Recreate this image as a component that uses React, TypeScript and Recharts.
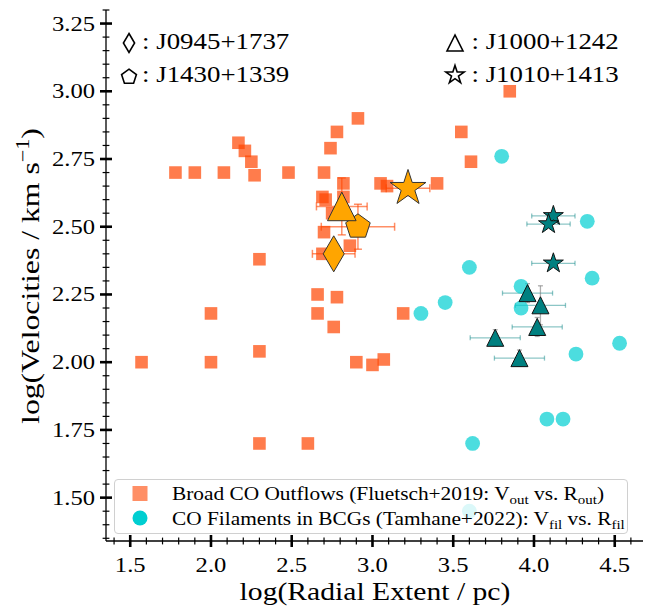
import React from 'react';
import { ScatterChart, Scatter, XAxis, YAxis, ErrorBar } from 'recharts';

// DejaVu Serif is not installed here, so Liberation Serif is widened a little to match it
const SERIF = "'Liberation Serif', 'DejaVu Serif', serif";
const WIDEN = 1.14;

// Fluetsch+2019 broad CO outflows: log R_out (pc), log V_out (km/s)
const outflowLogR = [
  1.57, 1.78, 1.9, 2.0, 2.0, 2.08, 2.17, 2.21, 2.25, 2.27, 2.3, 2.3, 2.3, 2.48,
  2.6, 2.66, 2.66, 2.7, 2.69, 2.71, 2.7, 2.69, 2.74, 2.78, 2.91, 2.82, 2.82,
  2.75, 2.86, 2.78, 2.76, 2.9, 3.0, 3.07, 3.05, 3.09, 3.19, 3.4, 3.55, 3.61, 3.85,
];
const outflowLogV = [
  2.0, 2.7, 2.7, 2.18, 2.0, 2.7, 2.81, 2.78, 2.74, 2.69, 2.38, 2.04, 1.7, 2.7,
  1.7, 2.25, 2.18, 2.7, 2.61, 2.6, 2.48, 2.4, 2.79, 2.85, 2.9, 2.66, 2.61,
  2.55, 2.43, 2.24, 2.13, 2.0, 1.99, 2.01, 2.66, 2.65, 2.18, 2.66, 2.85, 2.74, 3.0,
];

// Tamhane+2022 CO filaments in BCGs: log R_fil, log V_fil
const filamentLogR = [3.8, 4.33, 3.6, 4.36, 3.92, 3.45, 3.92, 3.3, 4.53, 4.26, 4.08, 4.18, 3.62, 3.6];
const filamentLogV = [2.76, 2.52, 2.35, 2.31, 2.28, 2.22, 2.2, 2.18, 2.07, 2.03, 1.79, 1.79, 1.7, 1.45];

// J1000+1242 clumps (teal triangles)
const clumpsJ1000LogR = [3.96, 4.04, 4.02, 3.76, 3.91];
const clumpsJ1000LogV = [2.255, 2.21, 2.13, 2.09, 2.015];
const clumpsJ1000ErrR = [0.155, 0.155, 0.155, 0.155, 0.155];
const clumpsJ1000ErrV = [0.035, 0.072, 0.035, 0.03, 0.03];

// J1010+1413 clumps (teal stars)
const clumpsJ1010LogR = [4.12, 4.09, 4.12];
const clumpsJ1010LogV = [2.54, 2.51, 2.365];
const clumpsJ1010ErrR = [0.134, 0.134, 0.134];

// the four outflow targets (orange markers)
const targetNames = ['J0945+1737', 'J1430+1339', 'J1000+1242', 'J1010+1413'];
const targetLogR = [2.76, 2.91, 2.81, 3.22];
const targetLogV = [2.4, 2.5, 2.575, 2.642];
const targetErrR = [0.132, 0.227, 0.157, 0.135];
const targetErrV = [0.022, 0.083, 0.105, 0.027];

const xMajor = [1.5, 2.0, 2.5, 3.0, 3.5, 4.0, 4.5];
const xLabels = ['1.5', '2.0', '2.5', '3.0', '3.5', '4.0', '4.5'];
const yMajor = [1.5, 1.75, 2.0, 2.25, 2.5, 2.75, 3.0, 3.25];
const yLabels = ['1.50', '1.75', '2.00', '2.25', '2.50', '2.75', '3.00', '3.25'];

const X_DOMAIN = [1.35, 4.675];
const Y_DOMAIN = [1.34, 3.3];

const xTicks: number[] = [];
for (let i = 14; i <= 46; i++) xTicks.push(i / 10);
const yTicks: number[] = [];
for (let i = 27; i <= 66; i++) yTicks.push(i / 20);

const majorIndex = (v: number, list: number[]) => list.findIndex((m) => Math.abs(m - v) < 1e-6);

const outflows = outflowLogR.map((x, i) => ({ x, y: outflowLogV[i] }));
const filaments = filamentLogR.map((x, i) => ({ x, y: filamentLogV[i] }));
const clumpsJ1000 = clumpsJ1000LogR.map((x, i) => ({
  x,
  y: clumpsJ1000LogV[i],
  ex: clumpsJ1000ErrR[i],
  ey: clumpsJ1000ErrV[i],
}));
const clumpsJ1010 = clumpsJ1010LogR.map((x, i) => ({ x, y: clumpsJ1010LogV[i], ex: clumpsJ1010ErrR[i] }));
const targets = targetNames.map((name, i) => ({
  name,
  x: targetLogR[i],
  y: targetLogV[i],
  ex: targetErrR[i],
  ey: targetErrV[i],
}));

const starPoints = (cx: number, cy: number, R: number) => {
  const pts: string[] = [];
  for (let i = 0; i < 10; i++) {
    const r = i % 2 === 0 ? R : R * 0.382;
    const a = -Math.PI / 2 + (i * Math.PI) / 5;
    pts.push(`${cx + r * Math.cos(a)},${cy + r * Math.sin(a)}`);
  }
  return pts.join(' ');
};
const pentagonPoints = (cx: number, cy: number, R: number) => {
  const pts: string[] = [];
  for (let i = 0; i < 5; i++) {
    const a = -Math.PI / 2 + (i * 2 * Math.PI) / 5;
    pts.push(`${cx + R * Math.cos(a)},${cy + R * Math.sin(a)}`);
  }
  return pts.join(' ');
};
const trianglePoints = (cx: number, cy: number, h: number) =>
  `${cx},${cy - h} ${cx - h},${cy + h} ${cx + h},${cy + h}`;
const diamondPoints = (cx: number, cy: number, hx: number, hy: number) =>
  `${cx},${cy - hy} ${cx + hx},${cy} ${cx},${cy + hy} ${cx - hx},${cy}`;

const SquareShape = ({ cx, cy }: any) => (
  <rect x={cx - 6.3} y={cy - 6.3} width={12.6} height={12.6} fill="#FF4500" fillOpacity={0.7} />
);
const DotShape = ({ cx, cy }: any) => <circle cx={cx} cy={cy} r={7.4} fill="#00CED1" fillOpacity={0.7} />;
const EmptyShape = () => <g />;

const ORANGE = '#FFA500';
const TEAL = '#008080';

const targetShapes = [
  ({ cx, cy }: any) => (
    <polygon points={diamondPoints(cx, cy, 10.5, 18)} fill={ORANGE} stroke="#333" strokeWidth={1} />
  ),
  ({ cx, cy }: any) => (
    <polygon points={pentagonPoints(cx, cy, 12.9)} fill={ORANGE} stroke="#333" strokeWidth={1} />
  ),
  ({ cx, cy }: any) => (
    <polygon points={trianglePoints(cx, cy, 14.3)} fill={ORANGE} stroke="#333" strokeWidth={1} />
  ),
  ({ cx, cy }: any) => (
    <polygon points={starPoints(cx, cy, 18.8)} fill={ORANGE} stroke="#333" strokeWidth={1} />
  ),
];
const TealTriangle = ({ cx, cy }: any) => (
  <polygon points={trianglePoints(cx, cy, 8.5)} fill={TEAL} stroke="#111" strokeWidth={1} />
);
const TealStar = ({ cx, cy }: any) => (
  <polygon points={starPoints(cx, cy, 10.5)} fill={TEAL} stroke="#111" strokeWidth={1} />
);

// ticks: "inout" style, majors labelled on bottom/left only
const makeXTick = (labels: boolean) => (props: any) => {
  const { x, y, payload } = props;
  const idx = majorIndex(payload.value, xMajor);
  const len = idx >= 0 ? 6 : 3.4;
  return (
    <g>
      <line x1={x} x2={x} y1={y - len} y2={y + len} stroke="#000" strokeWidth={idx >= 0 ? 2.6 : 1.2} />
      {labels && idx >= 0 && (
        <text
          transform={`translate(${x},${y + 31}) scale(1.15,1)`}
          textAnchor="middle"
          fontFamily={SERIF}
          fontSize={21.4}
          fill="#000"
        >
          {xLabels[idx]}
        </text>
      )}
    </g>
  );
};
const makeYTick = (labels: boolean) => (props: any) => {
  const { x, y, payload } = props;
  const idx = majorIndex(payload.value, yMajor);
  const len = idx >= 0 ? 6 : 3.4;
  return (
    <g>
      <line x1={x - len} x2={x + len} y1={y} y2={y} stroke="#000" strokeWidth={idx >= 0 ? 2.6 : 1.2} />
      {labels && idx >= 0 && (
        <text
          transform={`translate(${x - 11},${y + 7}) scale(1.15,1)`}
          textAnchor="end"
          fontFamily={SERIF}
          fontSize={21.4}
          fill="#000"
        >
          {yLabels[idx]}
        </text>
      )}
    </g>
  );
};

const spine = { stroke: '#000', strokeWidth: 1.3 };

const Sub = ({ children }: any) => (
  <span style={{ fontSize: '0.7em', position: 'relative', top: '0.3em' }}>{children}</span>
);

const AnnoMarker = ({ kind, cx, cy }: { kind: string; cx: number; cy: number }) => {
  const c = 15;
  let el: React.ReactNode = null;
  if (kind === 'diamond') el = <polygon points={diamondPoints(c, c, 5.6, 9.5)} />;
  if (kind === 'pentagon') el = <polygon points={pentagonPoints(c, c, 7.8)} />;
  if (kind === 'triangle') el = <polygon points={trianglePoints(c, c, 8)} />;
  if (kind === 'star') el = <polygon points={starPoints(c, c, 9.6)} />;
  return (
    <svg
      width={30}
      height={30}
      style={{ position: 'absolute', left: cx - c, top: cy - c }}
      fill="none"
      stroke="#000"
      strokeWidth={1.6}
    >
      {el}
    </svg>
  );
};

const annoText = (top: number, origin: string): React.CSSProperties => ({
  position: 'absolute',
  top,
  transform: 'translateY(-50%) scaleX(1.2)',
  transformOrigin: `${origin} center`,
  fontFamily: SERIF,
  fontSize: 22.4,
  lineHeight: 1,
  whiteSpace: 'nowrap',
  color: '#000',
});

const legendRow = (top: number): React.CSSProperties => ({
  position: 'absolute',
  left: 57,
  top,
  transform: `translateY(-50%) scaleX(${WIDEN + 0.02})`,
  transformOrigin: 'left center',
  lineHeight: 1,
  whiteSpace: 'nowrap',
});

export default function App() {
  return (
    <div style={{ position: 'absolute', left: 0, top: 0, width: 664, height: 608, background: '#fff' }}>
      <ScatterChart width={664} height={608} margin={{ top: 10, right: 21, bottom: 0, left: 0 }}>
        <XAxis
          type="number"
          dataKey="x"
          domain={X_DOMAIN}
          ticks={xTicks}
          interval={0}
          height={67}
          tickSize={0}
          tickMargin={0}
          tickLine={false}
          axisLine={spine}
          tick={makeXTick(true)}
          allowDataOverflow
        />
        <XAxis
          xAxisId="top"
          orientation="top"
          type="number"
          domain={X_DOMAIN}
          ticks={xTicks}
          interval={0}
          height={0}
          tickSize={0}
          tickMargin={0}
          tickLine={false}
          axisLine={spine}
          tick={makeXTick(false)}
          allowDataOverflow
        />
        <YAxis
          type="number"
          dataKey="y"
          domain={Y_DOMAIN}
          ticks={yTicks}
          interval={0}
          width={106}
          tickSize={0}
          tickMargin={0}
          tickLine={false}
          axisLine={spine}
          tick={makeYTick(true)}
          allowDataOverflow
        />
        <YAxis
          yAxisId="right"
          orientation="right"
          type="number"
          domain={Y_DOMAIN}
          ticks={yTicks}
          interval={0}
          width={0}
          tickSize={0}
          tickMargin={0}
          tickLine={false}
          axisLine={spine}
          tick={makeYTick(false)}
          allowDataOverflow
        />

        <Scatter data={outflows} shape={SquareShape} isAnimationActive={false} />
        <Scatter data={filaments} shape={DotShape} isAnimationActive={false} />

        <Scatter data={clumpsJ1000} shape={TealTriangle} isAnimationActive={false} />
        <Scatter data={clumpsJ1010} shape={TealStar} isAnimationActive={false} />
        <Scatter data={clumpsJ1000} shape={EmptyShape} isAnimationActive={false}>
          <ErrorBar dataKey="ex" direction="x" width={2.5} stroke="rgba(0,128,128,0.45)" strokeWidth={1.3} isAnimationActive={false} />
          <ErrorBar dataKey="ey" direction="y" width={2.5} stroke="rgba(120,120,120,0.6)" strokeWidth={1.3} isAnimationActive={false} />
        </Scatter>
        <Scatter data={clumpsJ1010} shape={EmptyShape} isAnimationActive={false}>
          <ErrorBar dataKey="ex" direction="x" width={2.5} stroke="rgba(0,128,128,0.45)" strokeWidth={1.3} isAnimationActive={false} />
        </Scatter>

        {targets.map((t, i) => (
          <Scatter key={t.name} name={t.name} data={[t]} shape={targetShapes[i]} isAnimationActive={false} />
        ))}
        <Scatter data={targets} shape={EmptyShape} isAnimationActive={false}>
          <ErrorBar dataKey="ex" direction="x" width={4} stroke="rgba(255,69,0,0.6)" strokeWidth={1.5} isAnimationActive={false} />
          <ErrorBar dataKey="ey" direction="y" width={4} stroke="rgba(255,69,0,0.6)" strokeWidth={1.5} isAnimationActive={false} />
        </Scatter>
      </ScatterChart>

      {/* target key, top corners */}
      <AnnoMarker kind="diamond" cx={128.5} cy={43} />
      <div style={{ ...annoText(42, 'left'), left: 142 }}>: J0945+1737</div>
      <AnnoMarker kind="pentagon" cx={128.5} cy={77} />
      <div style={{ ...annoText(75, 'left'), left: 142 }}>: J1430+1339</div>
      <AnnoMarker kind="triangle" cx={455} cy={43} />
      <div style={{ ...annoText(42, 'right'), right: 45 }}>: J1000+1242</div>
      <AnnoMarker kind="star" cx={455} cy={75} />
      <div style={{ ...annoText(75, 'right'), right: 45 }}>: J1010+1413</div>

      {/* legend */}
      <div
        style={{
          position: 'absolute',
          left: 114,
          top: 479,
          width: 514,
          height: 55,
          boxSizing: 'border-box',
          border: '1px solid #d0d0d0',
          borderRadius: 4,
          background: 'rgba(255,255,255,0.8)',
          fontFamily: SERIF,
          fontSize: 18.4,
          color: '#000',
        }}
      >
        <svg width={30} height={55} style={{ position: 'absolute', left: 10, top: -1 }}>
          <rect x={7.5} y={7} width={15} height={15} fill="#FF4500" fillOpacity={0.6} />
          <circle cx={15} cy={39} r={7.5} fill="#00CED1" />
        </svg>
        <div style={legendRow(14)}>
          Broad CO Outflows (Fluetsch+2019: V<Sub>out</Sub> vs. R<Sub>out</Sub>)
        </div>
        <div style={legendRow(39)}>
          CO Filaments in BCGs (Tamhane+2022): V<Sub>fil</Sub> vs. R<Sub>fil</Sub>
        </div>
      </div>

      {/* axis titles */}
      <div
        style={{
          position: 'absolute',
          left: 374.5,
          top: 592,
          transform: `translate(-50%, -50%) scaleX(${WIDEN})`,
          fontFamily: SERIF,
          fontSize: 26,
          lineHeight: 1,
          whiteSpace: 'nowrap',
        }}
      >
        log(Radial Extent / pc)
      </div>
      <div
        style={{
          position: 'absolute',
          left: 31,
          top: 276,
          transform: 'translate(-50%, -50%) rotate(-90deg) scaleX(1.22)',
          fontFamily: SERIF,
          fontSize: 26,
          lineHeight: 1,
          whiteSpace: 'nowrap',
        }}
      >
        log(Velocities / km s<span style={{ fontSize: '0.7em', position: 'relative', top: '-0.55em' }}>−1</span>)
      </div>
    </div>
  );
}
